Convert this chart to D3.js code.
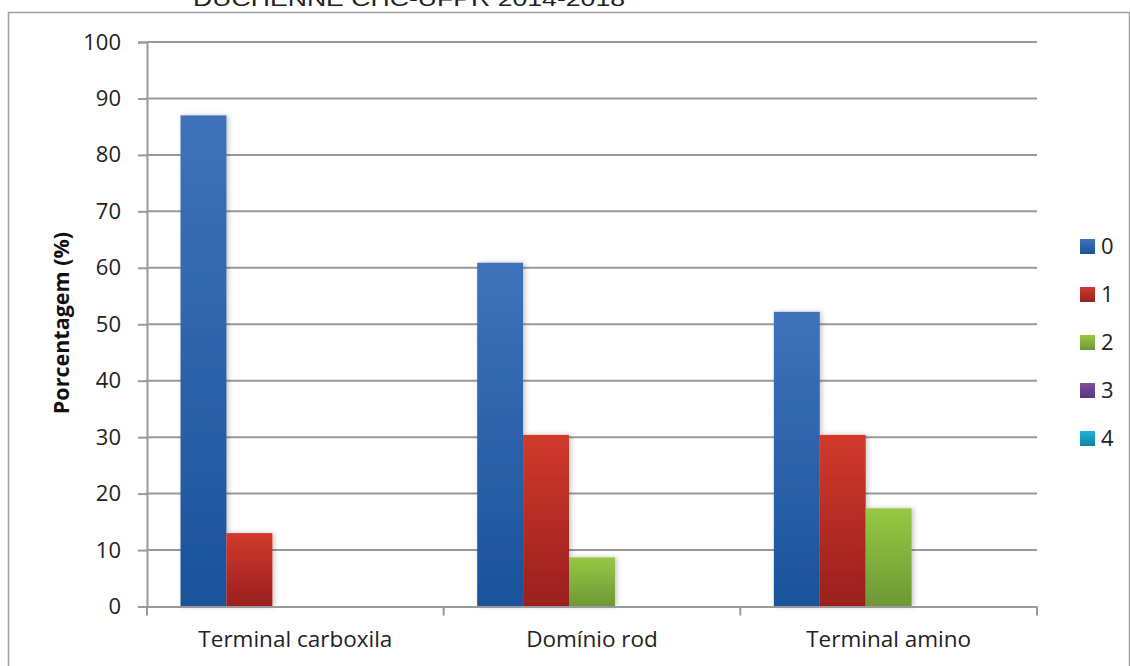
<!DOCTYPE html>
<html>
<head>
<meta charset="utf-8">
<script src="https://cdn.jsdelivr.net/npm/d3@7"></script>
<style>
  html, body { margin: 0; padding: 0; background: #fff; }
  svg { display: block; }
</style>
</head>
<body>
<svg id="chart" width="1130" height="666"></svg>
<script>
// Regions of the dystrophin gene and share of patients (%) per score
const categories = ["Terminal carboxila", "Domínio rod", "Terminal amino"];
const seriesNames = ["0", "1", "2", "3", "4"];
const series0 = [87.0, 60.9, 52.2];
const series1 = [13.0, 30.4, 30.4];
const series2 = [0, 8.7, 17.4];
const series3 = [0, 0, 0];
const series4 = [0, 0, 0];
const yTicks = [0, 10, 20, 30, 40, 50, 60, 70, 80, 90, 100];
const titleText = "DUCHENNE CHC-UFPR 2014-2018";
const yTitle = "Porcentagem (%)";

const seriesValues = [series0, series1, series2, series3, series4];
const palette = [
  ["#3f72b9", "#1b539b"],
  ["#d13a2b", "#9b1f1f"],
  ["#97c842", "#6d9836"],
  ["#7d52a3", "#58337f"],
  ["#20b2d9", "#0e84a6"]
];

const svg = d3.select("#chart");
const font = "'Open Sans', Lato, sans-serif";

const plot = { left: 147, right: 1037, top: 42, bottom: 606.5 };

const x0 = d3.scaleBand().domain(categories).range([plot.left, plot.right]).padding(0);
const x1 = d3.scaleBand().domain(seriesNames).range([0, x0.bandwidth()])
  .paddingInner(0).paddingOuter(0.73);
const y = d3.scaleLinear().domain([0, 100]).range([plot.bottom, plot.top]);

// gradients and a soft shadow for the bars
const defs = svg.append("defs");
palette.forEach((c, i) => {
  const g = defs.append("linearGradient").attr("id", "grad" + i)
    .attr("x1", 0).attr("y1", 0).attr("x2", 0).attr("y2", 1);
  g.append("stop").attr("offset", "0%").attr("stop-color", c[0]);
  g.append("stop").attr("offset", "100%").attr("stop-color", c[1]);
});
const f = defs.append("filter").attr("id", "shadow")
  .attr("x", "-30%").attr("y", "-10%").attr("width", "160%").attr("height", "120%");
f.append("feDropShadow").attr("dx", 2).attr("dy", 0).attr("stdDeviation", 2.5)
  .attr("flood-color", "#000").attr("flood-opacity", 0.22);

// outer frame
svg.append("path")
  .attr("d", "M8.5,666 V12.5 H1129.5 V666")
  .attr("fill", "none").attr("stroke", "#a0a0a0").attr("stroke-width", 1.5);

// title (runs off the top edge)
svg.append("text")
  .attr("x", 193).attr("y", 5.5)
  .attr("font-family", "'Liberation Sans', Arial, sans-serif")
  .attr("font-size", 21)
  .attr("textLength", 432).attr("lengthAdjust", "spacingAndGlyphs")
  .attr("fill", "#222")
  .text(titleText);

// horizontal gridlines
svg.append("g").selectAll("line").data(yTicks.filter(d => d > 0)).join("line")
  .attr("x1", plot.left).attr("x2", plot.right)
  .attr("y1", d => y(d)).attr("y2", d => y(d))
  .attr("stroke", "#9a9a9e").attr("stroke-width", 2);

// y axis
const yAxis = svg.append("g").attr("transform", `translate(${plot.left},0)`)
  .call(d3.axisLeft(y).tickValues(yTicks).tickSize(9).tickPadding(17));
yAxis.select(".domain").attr("stroke", "#9a9a9e").attr("stroke-width", 2);
yAxis.selectAll(".tick line").attr("stroke", "#9a9a9e").attr("stroke-width", 2);
yAxis.selectAll(".tick text").attr("font-family", font).attr("font-size", 22).attr("fill", "#222");

// bars
const groups = svg.append("g").selectAll("g").data(categories).join("g")
  .attr("transform", d => `translate(${x0(d)},0)`);
groups.selectAll("rect")
  .data((c, ci) => seriesNames.map((s, si) => ({ s, si, v: seriesValues[si][ci] })).filter(d => d.v > 0))
  .join("rect")
  .attr("x", d => x1(d.s))
  .attr("width", x1.bandwidth())
  .attr("y", d => y(d.v))
  .attr("height", d => y(0) - y(d.v))
  .attr("fill", d => `url(#grad${d.si})`)
  .attr("filter", "url(#shadow)");

// x axis
const xAxis = svg.append("g").attr("transform", `translate(0,${plot.bottom})`)
  .call(d3.axisBottom(x0).tickSize(0).tickPadding(25));
xAxis.select(".domain").attr("stroke", "#9a9a9e").attr("stroke-width", 2);
xAxis.selectAll(".tick text").attr("font-family", font).attr("font-size", 22.5).attr("fill", "#222");
const bounds = categories.map(c => x0(c)).concat([plot.right]);
svg.append("g").selectAll("line").data(bounds).join("line")
  .attr("x1", d => d).attr("x2", d => d)
  .attr("y1", plot.bottom).attr("y2", plot.bottom + 9)
  .attr("stroke", "#9a9a9e").attr("stroke-width", 2);

// y axis title
svg.append("text")
  .attr("transform", "translate(69,323) rotate(-90)")
  .attr("text-anchor", "middle")
  .attr("font-family", font).attr("font-weight", "bold").attr("font-size", 21.5)
  .attr("fill", "#111")
  .text(yTitle);

// legend
const legend = svg.append("g").selectAll("g").data(seriesNames).join("g")
  .attr("transform", (d, i) => `translate(1080,${246.5 + i * 48})`);
legend.append("rect").attr("x", 0).attr("y", -7.5).attr("width", 15).attr("height", 15)
  .attr("fill", (d, i) => `url(#grad${i})`);
legend.append("text").attr("x", 21).attr("y", 0).attr("dy", "0.36em")
  .attr("font-family", font).attr("font-size", 22).attr("fill", "#222")
  .text(d => d);
</script>
</body>
</html>
